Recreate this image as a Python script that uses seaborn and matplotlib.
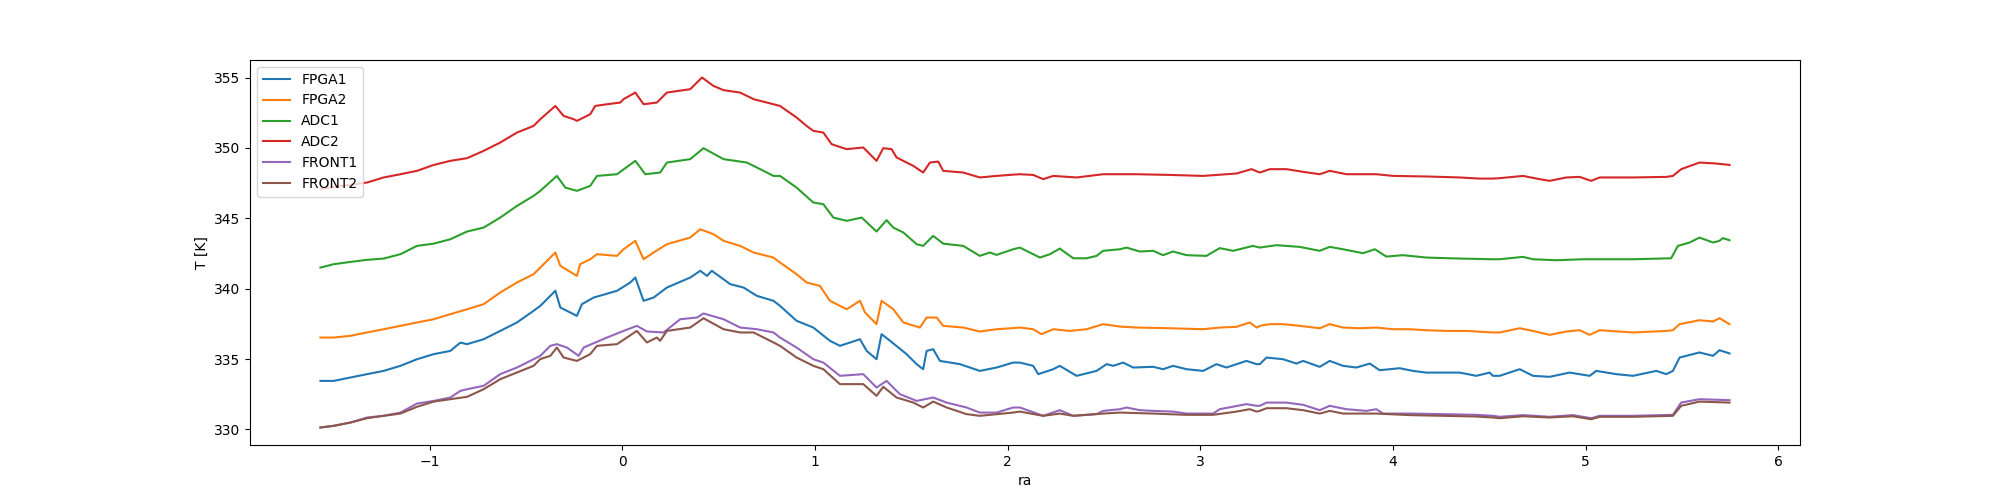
import matplotlib
matplotlib.use("Agg")
import matplotlib.pyplot as plt
import pandas as pd
import seaborn as sns

# values (ra, temperature in K)
fpga1_ra = [-1.566, -1.497, -1.411, -1.324, -1.238, -1.151, -1.065, -0.978, -0.892, -0.840, -0.805, -0.719, -0.633, -0.546, -0.460,
            -0.425, -0.347, -0.321, -0.235, -0.209, -0.148, -0.027, 0.042, 0.068, 0.111, 0.163, 0.232, 0.353, 0.405, 0.440, 0.465, 0.561, 0.630, 0.699, 0.785,
            0.819, 0.905, 0.992, 1.078, 1.130, 1.234, 1.269, 1.320, 1.346, 1.390, 1.476, 1.528, 1.562, 1.580, 1.614, 1.649, 1.753, 1.856, 1.943, 2.029,
            2.064, 2.133, 2.159, 2.237, 2.271, 2.358, 2.462, 2.514, 2.548, 2.600, 2.652, 2.756, 2.807, 2.859, 2.929, 3.015, 3.084, 3.136, 3.240, 3.292,
            3.309, 3.344, 3.430, 3.499, 3.534, 3.620, 3.672, 3.741, 3.810, 3.880, 3.931, 4.035, 4.104, 4.174, 4.346, 4.433, 4.502, 4.519,
            4.554, 4.658, 4.727, 4.813, 4.917, 5.021, 5.055, 5.159, 5.246, 5.367, 5.419, 5.453, 5.488, 5.591, 5.661, 5.695, 5.747]
fpga1_t = [333.45, 333.45, 333.69, 333.93, 334.16, 334.52, 334.99, 335.35, 335.58, 336.17, 336.06, 336.41, 337.00, 337.60, 338.43,
           338.78, 339.85, 338.66, 338.07, 338.90, 339.37, 339.85, 340.44, 340.79, 339.14, 339.37, 340.08, 340.79, 341.27, 340.91, 341.27, 340.32, 340.08, 339.49, 339.14,
           338.78, 337.72, 337.24, 336.30, 335.94, 336.41, 335.58, 334.99, 336.77, 336.30, 335.35, 334.64, 334.28, 335.58, 335.70, 334.87, 334.64, 334.16, 334.40, 334.75,
           334.75, 334.52, 333.93, 334.28, 334.52, 333.81, 334.16, 334.64, 334.52, 334.75, 334.40, 334.45, 334.28, 334.52, 334.28, 334.16, 334.64, 334.40, 334.87, 334.64,
           334.64, 335.11, 334.99, 334.68, 334.87, 334.45, 334.87, 334.52, 334.40, 334.68, 334.21, 334.35, 334.16, 334.04, 334.04, 333.81, 334.04, 333.81,
           333.81, 334.28, 333.81, 333.74, 334.04, 333.81, 334.16, 333.93, 333.81, 334.16, 333.93, 334.16, 335.11, 335.47, 335.23, 335.63, 335.40]

fpga2_ra = [-1.566, -1.497, -1.411, -1.324, -1.238, -1.151, -1.065, -0.978, -0.892, -0.805, -0.719, -0.633, -0.546, -0.460,
            -0.425, -0.347, -0.321, -0.235, -0.218, -0.166, -0.131, -0.027, 0.007, 0.068, 0.111, 0.163, 0.232, 0.353, 0.405, 0.474, 0.526, 0.612, 0.682, 0.785,
            0.819, 0.905, 0.957, 1.026, 1.078, 1.165, 1.234, 1.260, 1.320, 1.346, 1.407, 1.459, 1.545, 1.580, 1.632, 1.666, 1.770, 1.856, 1.943, 2.029,
            2.064, 2.133, 2.176, 2.237, 2.323, 2.410, 2.496, 2.583, 2.669, 2.842, 3.015, 3.101, 3.188, 3.257, 3.292,
            3.309, 3.361, 3.430, 3.516, 3.620, 3.672, 3.741, 3.828, 3.914, 4.001, 4.087, 4.174, 4.277, 4.381, 4.519,
            4.554, 4.658, 4.727, 4.813, 4.900, 4.969, 5.021, 5.073, 5.246, 5.419, 5.453, 5.488, 5.591, 5.661, 5.695, 5.747]
fpga2_t = [336.53, 336.53, 336.65, 336.89, 337.12, 337.36, 337.60, 337.83, 338.19, 338.54, 338.90, 339.73, 340.44, 341.03,
           341.50, 342.57, 341.62, 340.91, 341.74, 342.09, 342.45, 342.33, 342.80, 343.40, 342.09, 342.57, 343.16, 343.63, 344.22, 343.87, 343.40, 343.04, 342.57, 342.21,
           341.86, 341.03, 340.44, 340.20, 339.14, 338.54, 339.14, 338.31, 337.48, 339.14, 338.54, 337.60, 337.24, 337.95, 337.95, 337.36, 337.24, 336.96, 337.12, 337.20,
           337.24, 337.12, 336.77, 337.12, 337.00, 337.12, 337.48, 337.31, 337.24, 337.19, 337.12, 337.24, 337.29, 337.60, 337.24,
           337.36, 337.48, 337.48, 337.36, 337.19, 337.48, 337.24, 337.19, 337.24, 337.12, 337.12, 337.05, 337.00, 337.00, 336.89,
           336.89, 337.19, 337.00, 336.72, 336.96, 337.05, 336.72, 337.05, 336.89, 337.00, 337.05, 337.48, 337.76, 337.67, 337.90, 337.48]

adc1_ra = [-1.566, -1.497, -1.411, -1.324, -1.238, -1.151, -1.065, -0.978, -0.892, -0.805, -0.719, -0.633, -0.546, -0.460,
           -0.425, -0.339, -0.295, -0.235, -0.166, -0.131, -0.027, 0.068, 0.120, 0.197, 0.232, 0.353, 0.422, 0.526, 0.647, 0.751, 0.785,
           0.819, 0.905, 0.992, 1.044, 1.096, 1.165, 1.243, 1.320, 1.372, 1.407, 1.459, 1.528, 1.562, 1.614, 1.666, 1.770, 1.856, 1.908, 1.943, 2.029,
           2.064, 2.168, 2.220, 2.271, 2.341, 2.410, 2.462, 2.496, 2.583, 2.617, 2.686, 2.756, 2.807, 2.859, 2.929, 3.032, 3.101, 3.171, 3.274,
           3.309, 3.395, 3.516, 3.620, 3.672, 3.741, 3.845, 3.906, 3.966, 4.052, 4.174, 4.346, 4.519,
           4.554, 4.675, 4.727, 4.848, 4.986, 5.246, 5.444, 5.479, 5.540, 5.591, 5.661, 5.695, 5.712, 5.747]
adc1_t = [341.50, 341.74, 341.90, 342.05, 342.14, 342.45, 343.04, 343.20, 343.51, 344.06, 344.34, 345.05, 345.88, 346.59,
          346.95, 348.01, 347.18, 346.95, 347.30, 348.01, 348.13, 349.08, 348.13, 348.25, 348.96, 349.20, 349.98, 349.20, 348.96, 348.25, 348.01,
          348.01, 347.18, 346.12, 346.00, 345.05, 344.82, 345.05, 344.06, 344.87, 344.34, 343.99, 343.16, 343.04, 343.75, 343.20, 343.04, 342.33, 342.57, 342.40, 342.80,
          342.92, 342.21, 342.45, 342.85, 342.16, 342.16, 342.33, 342.69, 342.80, 342.92, 342.64, 342.69, 342.38, 342.64, 342.38, 342.33, 342.88, 342.69, 343.04,
          342.92, 343.09, 342.97, 342.69, 342.97, 342.80, 342.52, 342.80, 342.28, 342.38, 342.21, 342.14, 342.09,
          342.09, 342.26, 342.09, 342.02, 342.09, 342.09, 342.16, 343.04, 343.28, 343.63, 343.28, 343.40, 343.59, 343.44]

adc2_ra = [-1.566, -1.497, -1.411, -1.324, -1.238, -1.151, -1.065, -0.978, -0.892, -0.805, -0.719, -0.633, -0.546, -0.460,
           -0.425, -0.347, -0.304, -0.252, -0.235, -0.166, -0.140, -0.079, -0.010, 0.007, 0.068, 0.111, 0.180, 0.232, 0.353, 0.414, 0.474, 0.526, 0.612, 0.682, 0.785,
           0.819, 0.905, 0.957, 0.992, 1.044, 1.087, 1.165, 1.251, 1.320, 1.355, 1.398, 1.424, 1.511, 1.562, 1.597, 1.640, 1.666, 1.770, 1.856, 1.943, 2.029,
           2.064, 2.133, 2.185, 2.237, 2.358, 2.496, 2.669, 2.842, 3.015, 3.188, 3.266,
           3.309, 3.361, 3.447, 3.534, 3.620, 3.672, 3.759, 3.914, 4.001, 4.174, 4.346, 4.450, 4.519,
           4.554, 4.675, 4.761, 4.813, 4.900, 4.969, 5.029, 5.073, 5.246, 5.419, 5.453, 5.496, 5.591, 5.678, 5.747]
adc2_t = [347.07, 347.23, 347.37, 347.54, 347.90, 348.13, 348.37, 348.79, 349.08, 349.27, 349.79, 350.38, 351.09, 351.56,
          352.04, 352.98, 352.27, 352.04, 351.92, 352.39, 352.98, 353.10, 353.22, 353.46, 353.93, 353.10, 353.22, 353.93, 354.17, 355.00, 354.40, 354.10, 353.93, 353.46, 353.10,
          352.98, 352.16, 351.56, 351.21, 351.09, 350.26, 349.91, 350.03, 349.08, 349.98, 349.91, 349.32, 348.72, 348.25, 348.96, 349.03, 348.37, 348.25, 347.90, 348.01, 348.10,
          348.13, 348.08, 347.78, 348.01, 347.90, 348.13, 348.13, 348.08, 348.01, 348.18, 348.49,
          348.25, 348.49, 348.49, 348.30, 348.13, 348.37, 348.13, 348.13, 348.01, 347.97, 347.90, 347.82, 347.82,
          347.85, 348.01, 347.78, 347.66, 347.90, 347.94, 347.66, 347.90, 347.90, 347.94, 348.01, 348.49, 348.96, 348.89, 348.79]

front1_ra = [-1.566, -1.497, -1.411, -1.324, -1.238, -1.151, -1.065, -0.978, -0.892, -0.840, -0.805, -0.719, -0.633, -0.546, -0.460,
             -0.425, -0.373, -0.339, -0.287, -0.226, -0.200, -0.079, 0.007, 0.076, 0.128, 0.215, 0.301, 0.388, 0.422, 0.526, 0.612, 0.699, 0.785,
             0.819, 0.905, 0.992, 1.044, 1.130, 1.251, 1.320, 1.372, 1.441, 1.528, 1.614, 1.684, 1.787, 1.856, 1.943, 2.029,
             2.064, 2.185, 2.271, 2.341, 2.462, 2.496, 2.583, 2.617, 2.686, 2.756, 2.859, 2.929, 3.067, 3.101, 3.240, 3.292,
             3.309, 3.344, 3.447, 3.534, 3.620, 3.672, 3.759, 3.862, 3.914, 3.949, 4.087, 4.260, 4.433, 4.519,
             4.554, 4.675, 4.813, 4.934, 5.029, 5.073, 5.246, 5.453, 5.496, 5.591, 5.747]
front1_t = [330.14, 330.26, 330.49, 330.85, 330.97, 331.20, 331.84, 332.03, 332.27, 332.74, 332.86, 333.10, 333.93, 334.40, 334.99,
            335.23, 335.94, 336.06, 335.82, 335.23, 335.82, 336.53, 337.00, 337.36, 336.96, 336.89, 337.83, 337.95, 338.24, 337.83, 337.24, 337.12, 336.89,
            336.53, 335.82, 334.99, 334.75, 333.81, 333.93, 332.98, 333.45, 332.51, 332.03, 332.27, 331.91, 331.56, 331.20, 331.20, 331.56,
            331.56, 330.97, 331.37, 330.97, 331.09, 331.32, 331.44, 331.56, 331.37, 331.32, 331.27, 331.13, 331.13, 331.44, 331.80, 331.68,
            331.68, 331.91, 331.91, 331.75, 331.37, 331.68, 331.44, 331.32, 331.44, 331.13, 331.13, 331.09, 331.04, 330.97,
            330.90, 331.02, 330.90, 331.02, 330.80, 330.97, 330.97, 331.04, 331.91, 332.15, 332.08]

front2_ra = [-1.566, -1.497, -1.411, -1.324, -1.238, -1.151, -1.065, -0.978, -0.892, -0.805, -0.719, -0.633, -0.546, -0.460,
             -0.425, -0.373, -0.339, -0.304, -0.235, -0.166, -0.131, -0.027, 0.076, 0.128, 0.180, 0.197, 0.232, 0.353, 0.422, 0.526, 0.612, 0.682, 0.785,
             0.819, 0.905, 0.992, 1.044, 1.130, 1.251, 1.320, 1.355, 1.424, 1.511, 1.562, 1.614, 1.684, 1.787, 1.856, 2.029,
             2.064, 2.185, 2.271, 2.341, 2.496, 2.583, 2.756, 2.929, 3.067, 3.188, 3.257, 3.292,
             3.309, 3.344, 3.447, 3.534, 3.620, 3.672, 3.741, 3.914, 4.087, 4.260, 4.433, 4.519,
             4.554, 4.675, 4.813, 4.934, 5.029, 5.073, 5.246, 5.453, 5.496, 5.591, 5.747]
front2_t = [330.14, 330.26, 330.49, 330.80, 330.97, 331.13, 331.61, 331.98, 332.15, 332.32, 332.86, 333.57, 334.05, 334.52,
            335.00, 335.23, 335.82, 335.11, 334.87, 335.35, 335.94, 336.06, 337.00, 336.18, 336.53, 336.30, 337.00, 337.24, 337.90, 337.12, 336.89, 336.89, 336.18,
            335.94, 335.11, 334.52, 334.28, 333.22, 333.22, 332.39, 333.03, 332.27, 331.91, 331.56, 331.98, 331.56, 331.09, 330.97, 331.20,
            331.27, 330.97, 331.13, 330.97, 331.13, 331.20, 331.13, 331.04, 331.04, 331.27, 331.44, 331.27,
            331.32, 331.51, 331.51, 331.37, 331.13, 331.32, 331.13, 331.13, 331.02, 330.97, 330.92, 330.85,
            330.80, 330.94, 330.85, 330.94, 330.73, 330.90, 330.90, 330.97, 331.68, 331.98, 331.91]

series_names = ["FPGA1", "FPGA2", "ADC1", "ADC2", "FRONT1", "FRONT2"]
series_ra = [fpga1_ra, fpga2_ra, adc1_ra, adc2_ra, front1_ra, front2_ra]
series_t = [fpga1_t, fpga2_t, adc1_t, adc2_t, front1_t, front2_t]


def main() -> None:
    palette = sns.color_palette("tab10", len(series_names))
    fig, ax = plt.subplots(figsize=(20, 5), dpi=100)

    for name, ra, temp, color in zip(series_names, series_ra, series_t, palette):
        df = pd.DataFrame({"ra": ra, "T": temp})
        sns.lineplot(data=df, x="ra", y="T", color=color, label=name,
                     sort=False, estimator=None, linewidth=1.5, ax=ax)

    ax.set_xlabel("ra")
    ax.set_ylabel("T [K]")
    ax.legend(loc="upper left")
    fig.savefig("out.png", dpi=100)
    plt.close(fig)


if __name__ == "__main__":
    main()
